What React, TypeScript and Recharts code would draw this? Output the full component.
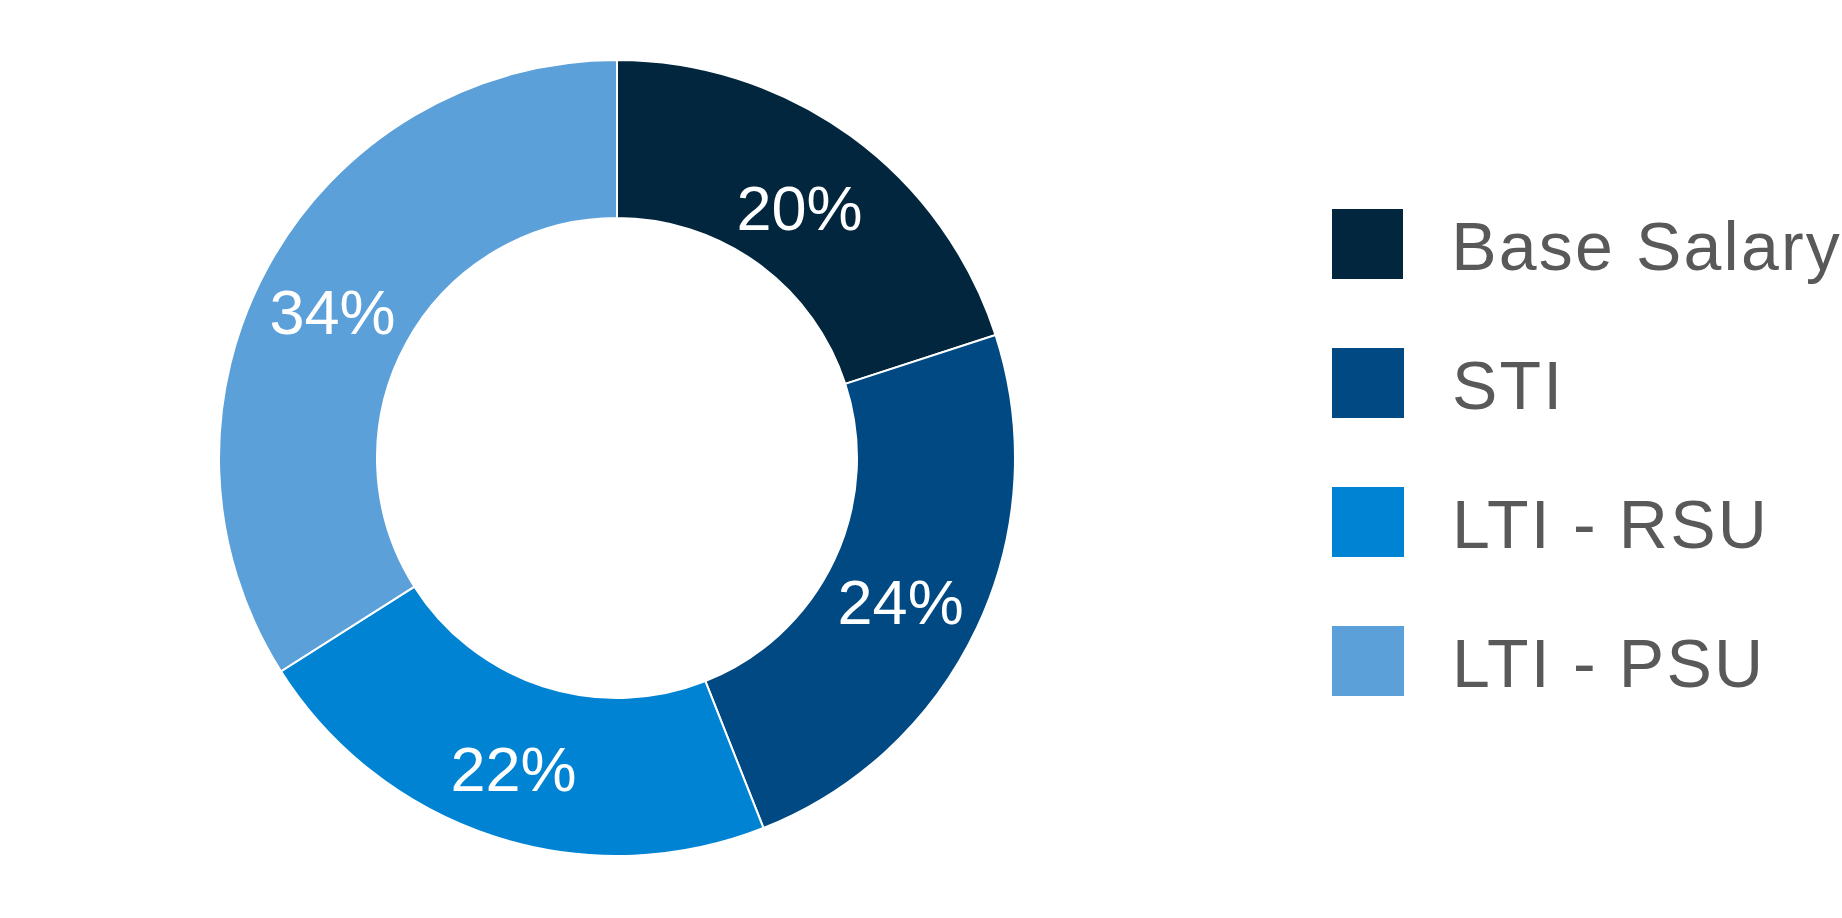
import { Cell, Legend, Pie, PieChart } from "recharts";

const categories = ["Base Salary", "STI", "LTI - RSU", "LTI - PSU"];
const shares = [20, 24, 22, 34];
const colors = ["#01263D", "#004983", "#0083D3", "#5CA0D9"];

const data = categories.map((name, i) => ({ name, value: shares[i] }));

const RADIAN = Math.PI / 180;

function renderLabel(props: any) {
  const { cx, cy, midAngle, innerRadius, outerRadius, value } = props;
  const r = (innerRadius + outerRadius) / 2;
  const x = cx + r * Math.cos(-midAngle * RADIAN) - 5;
  const y = cy + r * Math.sin(-midAngle * RADIAN) + 8;
  return (
    <text
      x={x}
      y={y}
      fill="#ffffff"
      textAnchor="middle"
      dominantBaseline="central"
      fontSize={63}
      fontFamily="'Liberation Sans', Arial, sans-serif"
    >
      {`${value}%`}
    </text>
  );
}

function LegendBox() {
  return (
    <div style={{ fontFamily: "'Liberation Sans', Arial, sans-serif" }}>
      {categories.map((name, i) => (
        <div
          key={name}
          style={{ display: "flex", alignItems: "center", height: 70, marginBottom: 69 }}
        >
          <div style={{ width: 72, height: 70, background: colors[i] }} />
          <span
            style={{
              marginLeft: 48,
              fontSize: 68,
              letterSpacing: "2.2px",
              lineHeight: "76px",
              color: "#595959",
              paddingTop: 4,
              whiteSpace: "nowrap",
            }}
          >
            {name}
          </span>
        </div>
      ))}
    </div>
  );
}

export default function App() {
  return (
    <div style={{ position: "absolute", left: 0, top: 0, background: "#fff" }}>
      <PieChart width={1842} height={918} margin={{ top: 0, right: 0, bottom: 0, left: 0 }}>
        <Pie
          data={data}
          dataKey="value"
          nameKey="name"
          cx={617}
          cy={458}
          outerRadius={398}
          innerRadius={240}
          startAngle={90}
          endAngle={-270}
          stroke="#ffffff"
          strokeWidth={2}
          label={renderLabel}
          labelLine={false}
          isAnimationActive={false}
        >
          {data.map((d, i) => (
            <Cell key={d.name} fill={colors[i]} />
          ))}
        </Pie>
        <Legend
          layout="vertical"
          verticalAlign="top"
          align="right"
          wrapperStyle={{ left: 1332, top: 209, right: "auto", width: 510 }}
          content={() => <LegendBox />}
        />
      </PieChart>
    </div>
  );
}
